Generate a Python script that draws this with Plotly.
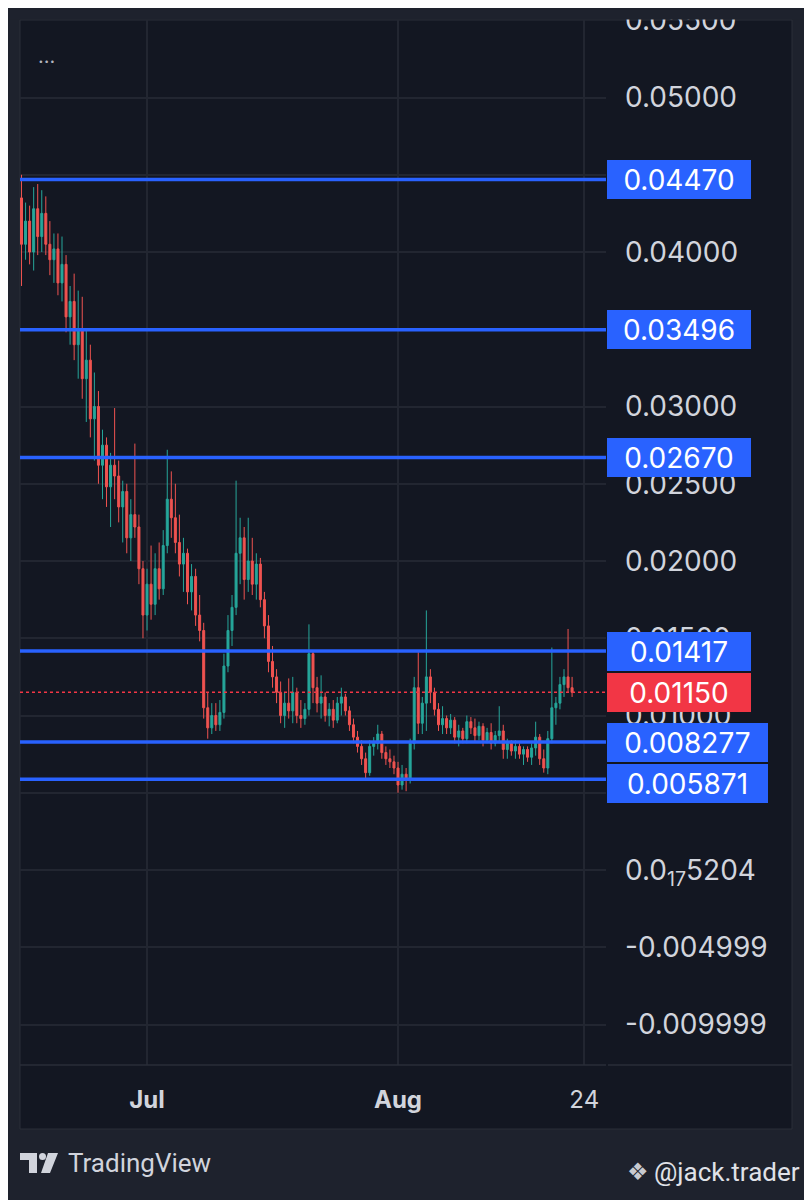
import plotly.graph_objects as go
import pandas as pd

# ----------------------------
# Data (12h candles)
# ----------------------------
times = pd.date_range("2024-06-15 12:00", periods=137, freq="12h")

opens = [
    .0435, .0405, .0420, .0400, .0428, .0410, .0425, .0405, .0395, .0402,
    .0380, .0392, .0358, .0368, .0340, .0350, .0318, .0330, .0292, .0300,
    .0262, .0275, .0248, .0262, .0255, .0235, .0245, .0215, .0230, .0222,
    .0195, .0165, .0185, .0172, .0195, .0182, .0210, .0240, .0228, .0212,
    .0198, .0205, .0180, .0190, .0165, .0155, .0105, .0092, .0100, .0094,
    .0102, .0132, .0155, .0170, .0205, .0215, .0188, .0200, .0185, .0198,
    .0175, .0158, .0135, .0125, .0115, .0100, .0108, .0103, .0115, .0100,
    .0098, .0104, .0140, .0118, .0108, .0112, .0100, .0104, .0097, .0108,
    .0112, .0103, .0094, .0086, .0080, .0072, .0063, .0080, .0082, .0088,
    .0076, .0072, .0070, .0066, .0055, .0062, .0058, .0082, .0118, .0095,
    .0108, .0125, .0115, .0104, .0094, .0098, .0092, .0097, .0086, .0090,
    .0085, .0096, .0092, .0087, .0093, .0084, .0089, .0082, .0087, .0090,
    .0078, .0082, .0077, .0080, .0075, .0078, .0073, .0079, .0086, .0072,
    .0066, .0085, .0105, .0108, .0120, .0125, .0118,
]
highs = [
    .0450, .0432, .0430, .0442, .0444, .0440, .0436, .0420, .0412, .0412,
    .0410, .0398, .0378, .0386, .0375, .0371, .0350, .0340, .0322, .0310,
    .0285, .0280, .0270, .0299, .0265, .0252, .0250, .0240, .0276, .0230,
    .0200, .0195, .0210, .0205, .0212, .0220, .0272, .0258, .0250, .0230,
    .0215, .0208, .0198, .0195, .0178, .0160, .0115, .0108, .0108, .0110,
    .0140, .0165, .0178, .0252, .0228, .0222, .0228, .0215, .0205, .0202,
    .0180, .0165, .0145, .0130, .0122, .0115, .0124, .0125, .0118, .0110,
    .0108, .0159, .0142, .0125, .0126, .0115, .0108, .0110, .0112, .0118,
    .0114, .0106, .0098, .0090, .0084, .0076, .0084, .0086, .0094, .0090,
    .0080, .0078, .0074, .0070, .0068, .0066, .0085, .0125, .0141, .0112,
    .0168, .0130, .0118, .0108, .0106, .0100, .0101, .0099, .0094, .0092,
    .0100, .0099, .0098, .0096, .0095, .0092, .0095, .0090, .0106, .0094,
    .0085, .0084, .0084, .0082, .0080, .0080, .0082, .0096, .0088, .0078,
    .0090, .0144, .0112, .0125, .0130, .0156, .0125,
]
lows = [
    .0378, .0395, .0392, .0388, .0398, .0400, .0398, .0385, .0380, .0372,
    .0368, .0348, .0340, .0330, .0318, .0305, .0290, .0280, .0265, .0250,
    .0240, .0235, .0222, .0240, .0225, .0212, .0205, .0200, .0215, .0185,
    .0150, .0155, .0162, .0165, .0175, .0178, .0205, .0215, .0205, .0190,
    .0180, .0172, .0168, .0158, .0148, .0098, .0085, .0088, .0090, .0090,
    .0098, .0128, .0145, .0165, .0185, .0175, .0180, .0178, .0175, .0170,
    .0150, .0128, .0118, .0108, .0095, .0092, .0098, .0095, .0095, .0092,
    .0094, .0100, .0108, .0102, .0098, .0096, .0093, .0092, .0095, .0100,
    .0100, .0090, .0082, .0076, .0068, .0059, .0061, .0074, .0078, .0072,
    .0068, .0066, .0062, .0050, .0052, .0051, .0056, .0078, .0088, .0088,
    .0090, .0108, .0100, .0090, .0088, .0088, .0088, .0082, .0080, .0082,
    .0082, .0088, .0083, .0084, .0080, .0082, .0078, .0080, .0082, .0072,
    .0072, .0074, .0072, .0072, .0068, .0070, .0068, .0074, .0068, .0063,
    .0062, .0082, .0094, .0104, .0112, .0115, .0112,
]
closes = [
    .0405, .0420, .0400, .0428, .0410, .0425, .0405, .0395, .0402, .0380,
    .0392, .0358, .0368, .0340, .0350, .0318, .0330, .0292, .0300, .0262,
    .0275, .0248, .0262, .0255, .0235, .0245, .0215, .0230, .0222, .0195,
    .0165, .0185, .0172, .0195, .0182, .0210, .0240, .0228, .0212, .0198,
    .0205, .0180, .0190, .0165, .0155, .0105, .0092, .0100, .0094, .0102,
    .0132, .0155, .0170, .0205, .0215, .0188, .0200, .0185, .0198, .0175,
    .0158, .0135, .0125, .0115, .0100, .0108, .0103, .0115, .0100, .0098,
    .0104, .0140, .0118, .0108, .0112, .0100, .0104, .0097, .0108, .0112,
    .0103, .0094, .0086, .0080, .0072, .0063, .0080, .0082, .0088, .0076,
    .0072, .0070, .0066, .0055, .0062, .0058, .0082, .0118, .0095, .0108,
    .0125, .0115, .0104, .0094, .0098, .0092, .0097, .0086, .0090, .0085,
    .0096, .0092, .0087, .0093, .0084, .0089, .0082, .0087, .0090, .0078,
    .0082, .0077, .0080, .0075, .0078, .0073, .0079, .0086, .0072, .0066,
    .0085, .0105, .0108, .0120, .0125, .0118, .0115,
]

# support / resistance levels drawn on the chart
levels = [0.04470, 0.03496, 0.02670, 0.01417, 0.008277, 0.005871]
level_labels = ["0.04470", "0.03496", "0.02670", "0.01417", "0.008277", "0.005871"]
last_price = 0.01150
last_label = "0.01150"

# price axis ticks (TradingView's odd rounding kept as shown)
y_ticks = [0.055, 0.05, 0.045, 0.04, 0.035, 0.03, 0.025, 0.02, 0.015, 0.01,
           0.005, 0.0, -0.005, -0.01]
y_ticktext = ["0.05500", "0.05000", "0.04500", "0.04000", "0.03500", "0.03000",
              "0.02500", "0.02000", "0.01500", "0.01000", "0.00500",
              "0.0<sub>17</sub>5204", "-0.004999", "-0.009999"]
x_ticks = ["2024-07-01", "2024-08-01", "2024-08-24"]
x_ticktext = ["<b>Jul</b>", "<b>Aug</b>", "24"]

# ----------------------------
# Colours / geometry
# ----------------------------
OUTER = "#1e222d"
PANEL = "#131722"
BORDER = "#2a2e39"
GRID = "#222631"
TEXT = "#d1d4dc"
UP = "#26a69a"
DOWN = "#ef5350"
BLUE = "#2962ff"
RED = "#f23645"

# the page body adds an 8px offset, so the figure is drawn 8px smaller
OFF = 8
W, H = 812 - OFF, 1200 - OFF
L, R, T, B = 20, 606, 20, 1065   # plot area in screen pixels


def px(x):
    return (x - L) / (R - L)


def py(y):
    return (B - y) / (B - T)


fig = go.Figure()
fig.add_trace(go.Candlestick(
    x=times, open=opens, high=highs, low=lows, close=closes,
    increasing=dict(line=dict(color=UP, width=1), fillcolor=UP),
    decreasing=dict(line=dict(color=DOWN, width=1), fillcolor=DOWN),
    whiskerwidth=0, hoverinfo="skip",
))

shapes = []
# chart panel
shapes.append(dict(type="rect", xref="paper", yref="paper",
                   x0=px(20), x1=px(792), y0=py(20), y1=py(1129),
                   fillcolor=PANEL, line=dict(color=BORDER, width=1), layer="below"))
# time axis separator
shapes.append(dict(type="line", xref="paper", yref="paper",
                   x0=px(20), x1=px(606), y0=py(1065), y1=py(1065),
                   line=dict(color=BORDER, width=1.5)))
shapes.append(dict(type="line", xref="paper", yref="paper",
                   x0=px(608), x1=px(792), y0=py(1065), y1=py(1065),
                   line=dict(color=BORDER, width=1.5)))
# level lines
for lv in levels:
    shapes.append(dict(type="line", xref="paper", yref="y", x0=0, x1=1, y0=lv, y1=lv,
                       line=dict(color=BLUE, width=3.5)))
# last price line
shapes.append(dict(type="line", xref="paper", yref="y", x0=0, x1=1,
                   y0=last_price, y1=last_price,
                   line=dict(color=RED, width=1.5, dash="dot")))
# clip the top tick label like the panel edge does
shapes.append(dict(type="rect", xref="paper", yref="paper",
                   x0=px(0), x1=px(812), y0=py(0), y1=py(19.5),
                   fillcolor=OUTER, line=dict(width=0), layer="above"))
# TradingView logo
shapes.append(dict(type="rect", xref="paper", yref="paper",
                   x0=px(20), x1=px(37), y0=py(1153), y1=py(1160),
                   fillcolor=TEXT, line=dict(width=0), layer="above"))
shapes.append(dict(type="rect", xref="paper", yref="paper",
                   x0=px(29), x1=px(37), y0=py(1153), y1=py(1173),
                   fillcolor=TEXT, line=dict(width=0), layer="above"))
shapes.append(dict(type="circle", xref="paper", yref="paper",
                   x0=px(39), x1=px(46), y0=py(1153), y1=py(1160),
                   fillcolor=TEXT, line=dict(width=0), layer="above"))
shapes.append(dict(type="path", xref="paper", yref="paper",
                   path="M {} {} L {} {} L {} {} L {} {} Z".format(
                       px(48), py(1153), px(58), py(1153),
                       px(50), py(1173), px(41), py(1173)),
                   fillcolor=TEXT, line=dict(width=0), layer="above"))

annotations = []
# level price tags
for lv, lab in zip(levels, level_labels):
    w = 161 if len(lab) > 7 else 144
    shift = -4 if lab == "0.005871" else 0
    annotations.append(dict(
        xref="paper", yref="y", x=px(607), y=lv, xanchor="left", yanchor="middle",
        text=lab, showarrow=False, width=w, height=39, align="center",
        bgcolor=BLUE, borderpad=0, borderwidth=0, yshift=shift,
        font=dict(family="Inter", size=28, color="#ffffff")))
annotations.append(dict(
    xref="paper", yref="y", x=px(607), y=last_price, xanchor="left", yanchor="middle",
    text=last_label, showarrow=False, width=144, height=39, align="center",
    bgcolor=RED, borderpad=0, borderwidth=0,
    font=dict(family="Inter", size=28, color="#ffffff")))
# top-left menu dots
annotations.append(dict(xref="paper", yref="paper", x=px(36), y=py(56),
                        xanchor="left", yanchor="middle", text="...", showarrow=False,
                        font=dict(family="Inter", size=20, color="#b2b5be")))
# footer
annotations.append(dict(xref="paper", yref="paper", x=px(66), y=py(1163),
                        xanchor="left", yanchor="middle", text="TradingView", showarrow=False,
                        font=dict(family="Roboto", size=26, color=TEXT)))
annotations.append(dict(xref="paper", yref="paper", x=px(638), y=py(1172),
                        xanchor="center", yanchor="middle", text="❖", showarrow=False,
                        font=dict(family="DejaVu Sans", size=24, color="#c8cad0")))
annotations.append(dict(xref="paper", yref="paper", x=px(802), y=py(1172),
                        xanchor="right", yanchor="middle", text="@jack.trader", showarrow=False,
                        font=dict(family="Roboto", size=26, color="#e0e2e8")))

fig.update_layout(
    width=W, height=H,
    margin=dict(l=L - OFF, r=812 - R, t=T - OFF, b=1200 - B, autoexpand=False),
    paper_bgcolor=OUTER, plot_bgcolor="rgba(0,0,0,0)",
    showlegend=False,
    font=dict(family="Inter", color=TEXT),
    shapes=shapes, annotations=annotations,
    xaxis=dict(
        type="date", range=["2024-06-15 07:30", "2024-08-26 16:30"],
        tickvals=x_ticks, ticktext=x_ticktext, automargin=False,
        showgrid=True, gridcolor=GRID, gridwidth=1.5, zeroline=False, showline=False,
        ticks="", tickfont=dict(family="Inter", size=24, color=TEXT),
        ticklabelstandoff=18, rangeslider=dict(visible=False), fixedrange=True,
    ),
    yaxis=dict(
        side="right", range=[-0.012621, 0.055016], automargin=False,
        tickvals=y_ticks, ticktext=y_ticktext, ticklabeloverflow="allow",
        showgrid=True, gridcolor=GRID, gridwidth=1.5, zeroline=False, showline=False,
        ticks="", tickfont=dict(family="Inter", size=28, color=TEXT),
        ticklabelstandoff=18, fixedrange=True,
    ),
)

fig.write_html("out.html")
